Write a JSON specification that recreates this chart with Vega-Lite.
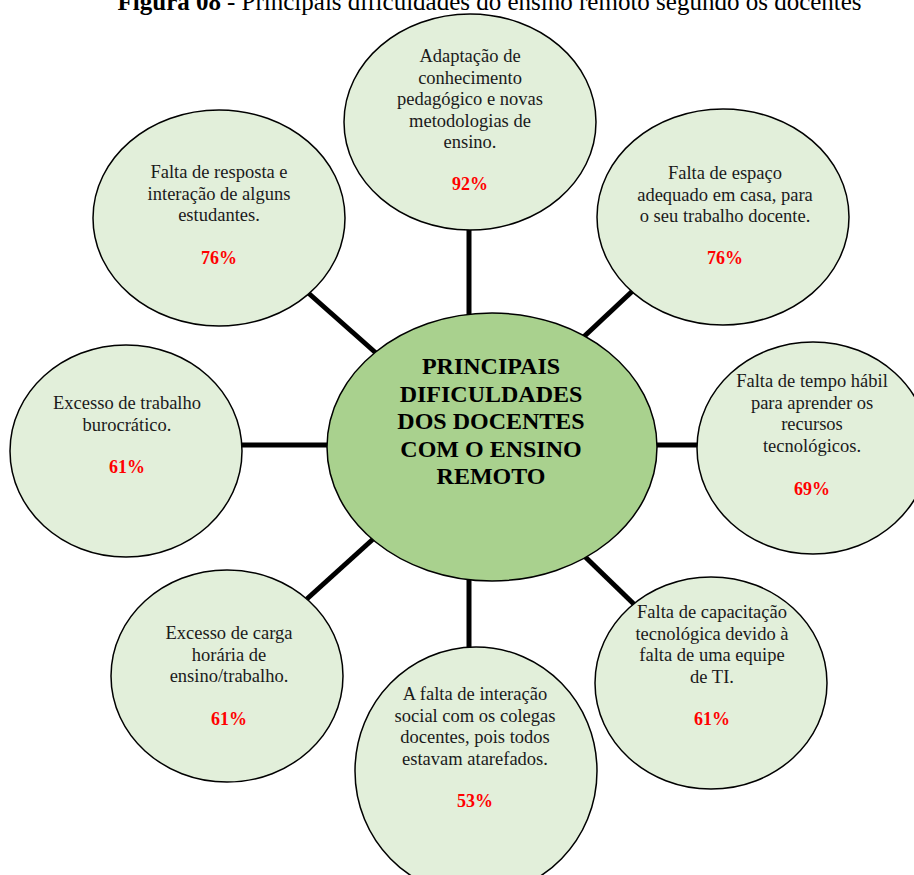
{
  "$schema": "https://vega.github.io/schema/vega-lite/v6.json",
  "width": 914,
  "height": 875,
  "padding": 0,
  "autosize": {"type": "none"},
  "background": "white",
  "config": {"view": {"stroke": null}},
  "datasets": {
    "nodes": [
      {"id": "top", "x": 470, "y": 122, "tx": 470, "ty": 56, "label": "Adaptação de\nconhecimento\npedagógico e novas\nmetodologias de\nensino.", "pct": "92%", "py": 185},
      {"id": "topright", "x": 723, "y": 217, "tx": 725, "ty": 173, "label": "Falta de espaço\nadequado em casa, para\no seu trabalho docente.", "pct": "76%", "py": 259},
      {"id": "right", "x": 813, "y": 448, "tx": 812, "ty": 381, "label": "Falta de tempo hábil\npara aprender os\nrecursos\ntecnológicos.", "pct": "69%", "py": 490},
      {"id": "bottomright", "x": 711, "y": 683, "tx": 712, "ty": 612, "label": "Falta de capacitação\ntecnológica devido à\nfalta de uma equipe\nde TI.", "pct": "61%", "py": 720},
      {"id": "bottom", "x": 476, "y": 771, "tx": 475, "ty": 694, "label": "A falta de interação\nsocial com os colegas\ndocentes, pois todos\nestavam atarefados.", "pct": "53%", "py": 802},
      {"id": "bottomleft", "x": 227, "y": 676, "tx": 229, "ty": 633, "label": "Excesso de carga\nhorária de\nensino/trabalho.", "pct": "61%", "py": 720},
      {"id": "left", "x": 126, "y": 451, "tx": 127, "ty": 403, "label": "Excesso de trabalho\nburocrático.", "pct": "61%", "py": 468},
      {"id": "topleft", "x": 219, "y": 218, "tx": 219, "ty": 172, "label": "Falta de resposta e\ninteração de alguns\nestudantes.", "pct": "76%", "py": 259}
    ],
    "links": [
      {"x": 469, "y": 225, "x2": 469, "y2": 320},
      {"x": 640, "y": 284, "x2": 575, "y2": 345},
      {"x": 650, "y": 445, "x2": 705, "y2": 445},
      {"x": 575, "y": 547, "x2": 640, "y2": 610},
      {"x": 469, "y": 575, "x2": 469, "y2": 660},
      {"x": 382, "y": 531, "x2": 298, "y2": 607},
      {"x": 235, "y": 445, "x2": 335, "y2": 445},
      {"x": 297, "y": 283, "x2": 385, "y2": 361}
    ],
    "hub": [
      {"x": 492, "y": 447, "tx": 491, "ty": 367, "label": "PRINCIPAIS\nDIFICULDADES\nDOS DOCENTES\nCOM O ENSINO\nREMOTO"}
    ],
    "caption": [
      {"x": 221, "y": 10, "bold": "Figura 08", "x2": 227, "rest": "- Principais dificuldades do ensino remoto segundo os docentes"}
    ]
  },
  "layer": [
    {
      "data": {"name": "links"},
      "mark": {"type": "rule", "strokeWidth": 5, "color": "black"},
      "encoding": {
        "x": {"field": "x", "type": "quantitative", "scale": {"domain": [0, 914], "nice": false, "zero": false}, "axis": null},
        "y": {"field": "y", "type": "quantitative", "scale": {"domain": [0, 875], "nice": false, "zero": false, "reverse": true}, "axis": null},
        "x2": {"field": "x2"},
        "y2": {"field": "y2"}
      }
    },
    {
      "data": {"name": "nodes"},
      "transform": [{"filter": {"field": "id", "oneOf": ["top", "topright", "topleft"]}}],
      "mark": {"type": "point", "filled": true, "fill": "#E2EFDA", "stroke": "black", "strokeWidth": 1.5, "opacity": 1, "size": 63504,
        "shape": "M1,0C1,0.4733,0.5523,0.857,0,0.857C-0.5523,0.857,-1,0.4733,-1,0C-1,-0.4733,-0.5523,-0.857,0,-0.857C0.5523,-0.857,1,-0.4733,1,0Z"},
      "encoding": {
        "x": {"field": "x", "type": "quantitative", "axis": null},
        "y": {"field": "y", "type": "quantitative", "axis": null}
      }
    },
    {
      "data": {"name": "nodes"},
      "transform": [{"filter": {"field": "id", "oneOf": ["right", "bottomright", "bottomleft", "left"]}}],
      "mark": {"type": "point", "filled": true, "fill": "#E2EFDA", "stroke": "black", "strokeWidth": 1.5, "opacity": 1, "size": 53824,
        "shape": "M1,0C1,0.5048,0.5523,0.914,0,0.914C-0.5523,0.914,-1,0.5048,-1,0C-1,-0.5048,-0.5523,-0.914,0,-0.914C0.5523,-0.914,1,-0.5048,1,0Z"},
      "encoding": {
        "x": {"field": "x", "type": "quantitative", "axis": null},
        "y": {"field": "y", "type": "quantitative", "axis": null}
      }
    },
    {
      "data": {"name": "nodes"},
      "transform": [{"filter": {"field": "id", "oneOf": ["bottom"]}}],
      "mark": {"type": "point", "filled": true, "fill": "#E2EFDA", "stroke": "black", "strokeWidth": 1.5, "opacity": 1, "size": 58564,
        "shape": "M1,0C1,0.5661,0.5523,1.025,0,1.025C-0.5523,1.025,-1,0.5661,-1,0C-1,-0.5661,-0.5523,-1.025,0,-1.025C0.5523,-1.025,1,-0.5661,1,0Z"},
      "encoding": {
        "x": {"field": "x", "type": "quantitative", "axis": null},
        "y": {"field": "y", "type": "quantitative", "axis": null}
      }
    },
    {
      "data": {"name": "hub"},
      "mark": {"type": "point", "filled": true, "fill": "#A9D18E", "stroke": "black", "strokeWidth": 1.5, "opacity": 1, "size": 108900,
        "shape": "M1,0C1,0.4485,0.5523,0.812,0,0.812C-0.5523,0.812,-1,0.4485,-1,0C-1,-0.4485,-0.5523,-0.812,0,-0.812C0.5523,-0.812,1,-0.4485,1,0Z"},
      "encoding": {
        "x": {"field": "x", "type": "quantitative", "axis": null},
        "y": {"field": "y", "type": "quantitative", "axis": null}
      }
    },
    {
      "data": {"name": "nodes"},
      "mark": {"type": "text", "font": "Liberation Serif", "fontSize": 18.5, "lineHeight": 21.5, "lineBreak": "\n", "align": "center", "baseline": "middle", "color": "#1a1a1a"},
      "encoding": {
        "x": {"field": "tx", "type": "quantitative", "axis": null},
        "y": {"field": "ty", "type": "quantitative", "axis": null},
        "text": {"field": "label"}
      }
    },
    {
      "data": {"name": "nodes"},
      "mark": {"type": "text", "font": "Liberation Serif", "fontSize": 18, "fontWeight": "bold", "align": "center", "baseline": "middle", "color": "#FF0000"},
      "encoding": {
        "x": {"field": "tx", "type": "quantitative", "axis": null},
        "y": {"field": "py", "type": "quantitative", "axis": null},
        "text": {"field": "pct"}
      }
    },
    {
      "data": {"name": "hub"},
      "mark": {"type": "text", "font": "Liberation Serif", "fontSize": 24, "fontWeight": "bold", "lineHeight": 27.5, "lineBreak": "\n", "align": "center", "baseline": "middle", "color": "black"},
      "encoding": {
        "x": {"field": "tx", "type": "quantitative", "axis": null},
        "y": {"field": "ty", "type": "quantitative", "axis": null},
        "text": {"field": "label"}
      }
    },
    {
      "data": {"name": "caption"},
      "mark": {"type": "text", "font": "Liberation Serif", "fontSize": 25, "fontWeight": "bold", "align": "right", "baseline": "alphabetic", "color": "black"},
      "encoding": {
        "x": {"field": "x", "type": "quantitative", "axis": null},
        "y": {"field": "y", "type": "quantitative", "axis": null},
        "text": {"field": "bold"}
      }
    },
    {
      "data": {"name": "caption"},
      "mark": {"type": "text", "font": "Liberation Serif", "fontSize": 25, "align": "left", "baseline": "alphabetic", "color": "black"},
      "encoding": {
        "x": {"field": "x2", "type": "quantitative", "axis": null},
        "y": {"field": "y", "type": "quantitative", "axis": null},
        "text": {"field": "rest"}
      }
    }
  ]
}
